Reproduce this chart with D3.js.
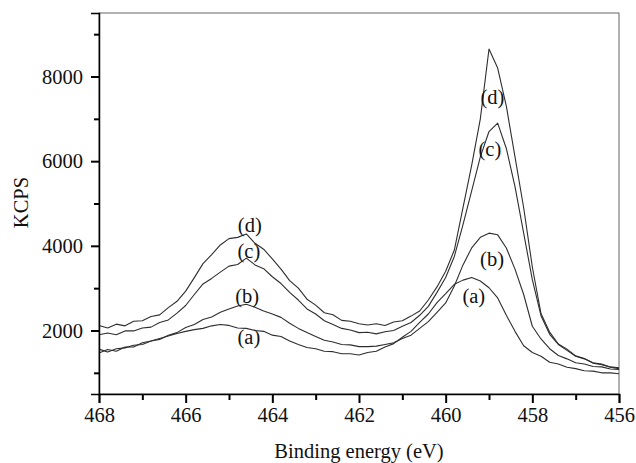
<!DOCTYPE html>
<html>
<head>
<meta charset="utf-8">
<script src="https://cdn.jsdelivr.net/npm/d3@7"></script>
<style>
  body { margin: 0; background: #fff; }
  svg text { font-family: "Liberation Serif", "DejaVu Serif", serif; fill: #111; }
</style>
</head>
<body>
<svg id="chart" width="636" height="463" viewBox="0 0 636 463"></svg>
<script>
// binding energy (eV), every 0.2 eV
const energy = [468.0, 467.8, 467.6, 467.4, 467.2, 467.0, 466.8, 466.6, 466.4, 466.2,
  466.0, 465.8, 465.6, 465.4, 465.2, 465.0, 464.8, 464.6, 464.4, 464.2,
  464.0, 463.8, 463.6, 463.4, 463.2, 463.0, 462.8, 462.6, 462.4, 462.2,
  462.0, 461.8, 461.6, 461.4, 461.2, 461.0, 460.8, 460.6, 460.4, 460.2,
  460.0, 459.8, 459.6, 459.4, 459.2, 459.0, 458.8, 458.6, 458.4, 458.2,
  458.0, 457.8, 457.6, 457.4, 457.2, 457.0, 456.8, 456.6, 456.4, 456.2, 456.0];

const seriesA = [1470, 1550, 1510, 1610, 1610, 1710, 1750, 1810, 1870, 1930,
  1980, 2020, 2050, 2110, 2140, 2120, 2060, 2050, 2000, 1980,
  1890, 1860, 1750, 1670, 1600, 1570, 1510, 1500, 1450, 1450,
  1420, 1480, 1510, 1610, 1690, 1840, 1980, 2190, 2390, 2660,
  2870, 3090, 3190, 3250, 3170, 3010, 2770, 2360, 1980, 1640,
  1480, 1390, 1250, 1210, 1130, 1100, 1050, 1040, 1000, 1000, 980];

const seriesB = [1560, 1490, 1570, 1590, 1650, 1670, 1750, 1790, 1890, 1950,
  2070, 2140, 2260, 2320, 2430, 2510, 2580, 2620, 2550, 2460,
  2390, 2310, 2170, 2050, 1950, 1860, 1770, 1730, 1670, 1660,
  1620, 1620, 1630, 1670, 1710, 1810, 1890, 2050, 2210, 2430,
  2650, 3050, 3550, 3950, 4200, 4300, 4260, 3950, 3450, 2850,
  2100, 1800, 1570, 1410, 1330, 1240, 1210, 1150, 1140, 1090, 1080];

const seriesC = [1900, 1940, 1900, 1990, 1990, 2060, 2080, 2190, 2250, 2410,
  2590, 2850, 3100, 3230, 3380, 3520, 3560, 3710, 3550, 3460,
  3270, 3110, 2900, 2720, 2510, 2390, 2230, 2140, 2050, 2010,
  1950, 1960, 1920, 1970, 2000, 2100, 2190, 2360, 2570, 2900,
  3250, 3750, 4500, 5300, 6100, 6700, 6900, 6300, 5400, 4300,
  3200, 2350, 1910, 1670, 1530, 1390, 1330, 1230, 1190, 1130, 1100];

const seriesD = [2120, 2060, 2150, 2110, 2220, 2230, 2330, 2370, 2540, 2690,
  2930, 3250, 3580, 3790, 4020, 4170, 4200, 4280, 4060, 3920,
  3690, 3450, 3180, 3000, 2740, 2600, 2420, 2370, 2240, 2220,
  2160, 2130, 2160, 2120, 2200, 2230, 2340, 2460, 2720, 3030,
  3400, 3900, 4900, 5900, 7000, 8650, 8200, 7300, 6100, 4900,
  3500, 2400, 1960, 1680, 1560, 1400, 1340, 1240, 1210, 1140, 1120];

const xTicks = [468, 466, 464, 462, 460, 458, 456];
const xMinorTicks = [467, 465, 463, 461, 459, 457];
const yTicks = [2000, 4000, 6000, 8000];
const yMinorTicks = [1000, 3000, 5000, 7000, 9000];

// curve labels, anchored in data coordinates (energy, counts)
const labelText = ["(d)", "(c)", "(b)", "(a)", "(d)", "(c)", "(b)", "(a)"];
const labelEnergy = [464.52, 464.54, 464.58, 464.54, 458.92, 458.98, 458.93, 459.35];
const labelValue = [4479, 3865, 2803, 1835, 7502, 6275, 3677, 2803];

const serif = '"Liberation Serif", "DejaVu Serif", serif';
const fontSize = "20.5px";
const svg = d3.select("#chart");
const margin = { left: 99, right: 17, top: 13, bottom: 69 };
const width = 636, height = 463;

const x = d3.scaleLinear().domain([468, 456]).range([margin.left, width - margin.right]);
const y = d3.scaleLinear().domain([500, 9500]).range([height - margin.bottom, margin.top]);

// frame (top/right lighter)
svg.append("rect")
    .attr("x", x(468)).attr("y", y(9500))
    .attr("width", x(456) - x(468)).attr("height", y(500) - y(9500))
    .style("fill", "none").style("stroke", "#666").style("stroke-width", 1);

// curves
const line = d3.line()
    .x((d, i) => x(energy[i]))
    .y(d => y(d));

[seriesA, seriesB, seriesC, seriesD].forEach(s => {
    svg.append("path")
        .datum(s)
        .attr("d", line)
        .style("fill", "none")
        .style("stroke", "#2e2e2e")
        .style("stroke-width", 1.1)
        .style("stroke-linejoin", "round");
});

// x axis
const xAxis = svg.append("g").attr("transform", `translate(0,${y(500)})`);
xAxis.call(d3.axisBottom(x).tickValues(xTicks).tickSize(9).tickPadding(4).tickFormat(d3.format("d")));
xAxis.append("g").call(d3.axisBottom(x).tickValues(xMinorTicks).tickSize(6).tickFormat(""))
    .select(".domain").remove();
xAxis.selectAll("line").style("stroke", "#000").style("stroke-width", 2);
xAxis.select(".domain").style("stroke", "#000").style("stroke-width", 1.5);
xAxis.attr("font-family", serif);
xAxis.selectAll("text").style("font-family", serif).style("font-size", fontSize).style("fill", "#111");

// y axis
const yAxis = svg.append("g").attr("transform", `translate(${x(468)},0)`);
yAxis.call(d3.axisLeft(y).tickValues(yTicks).tickSize(8).tickPadding(8).tickFormat(d3.format("d")));
yAxis.append("g").call(d3.axisLeft(y).tickValues(yMinorTicks).tickSize(5).tickFormat(""))
    .select(".domain").remove();
yAxis.selectAll("line").style("stroke", "#000").style("stroke-width", 2);
yAxis.select(".domain").style("stroke", "#000").style("stroke-width", 1.5);
yAxis.attr("font-family", serif);
yAxis.selectAll("text").style("font-family", serif).style("font-size", fontSize).style("fill", "#111");

// axis titles
svg.append("text")
    .attr("x", (x(468) + x(456)) / 2).attr("y", 458)
    .attr("text-anchor", "middle")
    .style("font-size", fontSize)
    .text("Binding energy (eV)");

svg.append("text")
    .attr("transform", `translate(28,${(y(500) + y(9500)) / 2 - 1}) rotate(-90)`)
    .attr("text-anchor", "middle")
    .style("font-size", fontSize)
    .text("KCPS");

// curve labels
labelText.forEach((t, i) => {
    svg.append("text")
        .attr("x", x(labelEnergy[i]))
        .attr("y", y(labelValue[i]))
        .attr("dy", "0.33em")
        .attr("text-anchor", "middle")
        .style("font-size", fontSize)
        .text(t);
});
</script>
</body>
</html>
